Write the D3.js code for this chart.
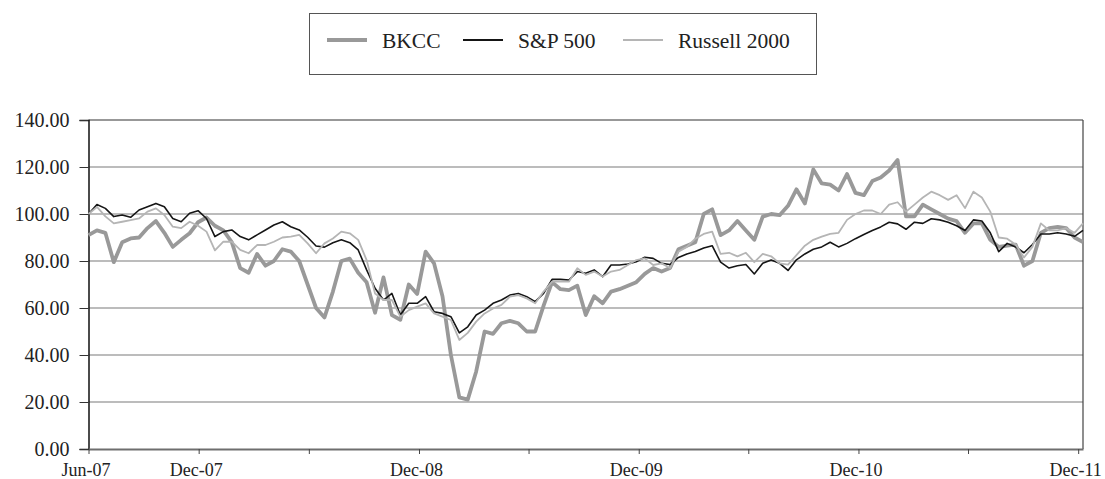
<!DOCTYPE html>
<html>
<head>
<meta charset="utf-8">
<script src="https://cdn.jsdelivr.net/npm/d3@7"></script>
<style>
  body { margin: 0; background: #fff; }
  svg { display: block; }
</style>
</head>
<body>
<svg class="chart"></svg>
<script>
// sampled every two weeks, starting 1 Jun 2007
let startDate = new Date(2007, 5, 1);
let stepDays  = 14;

let bkcc = [91, 93, 92, 79.5, 88, 89.6, 90, 94, 97, 92,
  86, 89, 91.8, 96.5, 98.5, 95, 93, 88, 77, 75,
  83, 78, 80, 85, 84, 80, 70, 60, 56, 67,
  80, 81, 75, 71, 58, 73, 57, 55, 70, 66,
  84, 79, 65, 40, 22, 21, 33, 50, 49, 53.5,
  54.5, 53.5, 50, 50, 61, 71, 68, 67.6, 69.5, 57,
  65, 62, 67, 68, 69.5, 71, 74.5, 77, 75.5, 77,
  85, 86.5, 88, 100, 102, 91, 93, 97, 93, 89,
  98.9, 100, 99.5, 103.5, 110.5, 104.5, 119, 113, 112.5, 110,
  117, 109, 108, 114, 115.5, 118.5, 123, 99, 99, 104,
  102, 100, 98, 97, 92, 96, 96, 89, 86, 86.5,
  87, 78, 80, 92, 94, 94.5, 94, 90, 88];

let sp500 = [100, 104, 102.4, 98.9, 99.6, 98.6, 101.7, 103.1, 104.5, 103.1,
  98.1, 96.7, 100.3, 101.4, 98.1, 90.4, 92.5, 93.2, 90.4, 89,
  91.1, 93.2, 95.3, 96.7, 94.6, 93.2, 90.1, 86.4, 85.9, 87.8,
  89, 87.8, 84.7, 76.2, 68.4, 63.4, 66.2, 57, 62, 62,
  64.8, 58.4, 57.7, 56.3, 49.4, 52, 57, 59.1, 62, 63.4,
  65.5, 66.2, 64.8, 62.7, 66.2, 72.2, 72.2, 71.9, 75.5, 74.8,
  76.2, 73.3, 78.3, 78.3, 78.7, 79.7, 81.6, 81.1, 79, 78.5,
  81.5, 83, 84, 85.5, 86.5, 79.5, 77, 78, 78.5, 74.5,
  79, 80.4, 79, 76, 80.5, 83, 85, 86, 88, 86,
  87.5, 89.5, 91.3, 93, 94.5, 96.5, 95.8, 93.5, 96.5, 96,
  98, 97.5, 96.5, 95, 93, 97.5, 97, 92, 84, 87.5,
  86, 83.5, 87, 91.5, 91.5, 92, 91.5, 90.5, 93];

let russell = [100, 103, 99, 96, 96.7, 97.4, 98.1, 101, 102.4, 99.6,
  94.6, 94, 96.7, 95, 92.5, 84.5, 88.2, 88.2, 84.7, 83.3,
  86.8, 86.8, 88.2, 90, 90.4, 91.1, 87.5, 83.3, 87.5, 89.6,
  92.5, 91.8, 89, 80.4, 66.2, 63.4, 63.4, 56.3, 59.1, 60.6,
  62, 57.7, 56.3, 54.9, 46.4, 49.4, 54.2, 57.7, 59.8, 61.3,
  64.8, 65.5, 64.1, 62, 67, 71.2, 71.2, 71.2, 76.9, 74.1,
  75.5, 73.4, 75.5, 76.2, 78.3, 80.4, 81.1, 78.3, 79, 77,
  84, 86, 89.5, 91.5, 92.5, 83, 83.5, 82, 83.5, 79.5,
  83, 82, 79, 78.5, 82.5, 86.5, 89, 90.4, 91.5, 92,
  97.5, 100, 101.5, 101.5, 100, 104, 105, 101, 104, 107,
  109.5, 108, 106, 108, 102.5, 109.5, 107, 101, 90, 89.5,
  87, 81.5, 86, 96, 93, 93, 94, 92, 96];

let seriesNames = ["BKCC", "S&P 500", "Russell 2000"];
let tickMonths  = ["2007-06", "2007-12", "2008-06", "2008-12", "2009-06", "2009-12", "2010-06", "2010-12", "2011-06", "2011-12"];
let tickLabels  = ["Jun-07", "Dec-07", "", "Dec-08", "", "Dec-09", "", "Dec-10", "", "Dec-11"];
let yTicks      = [0, 20, 40, 60, 80, 100, 120, 140];

let width  = 1105;
let height = 479;
let margin = {top: 120, right: 22, bottom: 30, left: 88.5};
let font   = "'Liberation Serif', 'Times New Roman', serif";

let svg = d3.select(".chart").attr("width", width).attr("height", height);

let dates = bkcc.map(function(d, i) { return d3.timeDay.offset(startDate, i * stepDays); });
let parseMonth = d3.timeParse("%Y-%m");

let x = d3.scaleTime().domain(d3.extent(dates)).range([margin.left, width - margin.right]);
let y = d3.scaleLinear().domain([0, 140]).range([height - margin.bottom, margin.top]);

// gridlines
svg.append("g")
  .selectAll("line")
  .data(yTicks.filter(function(d) { return d > 0; }))
  .join("line")
  .attr("x1", x.range()[0]).attr("x2", x.range()[1])
  .attr("y1", function(d) { return y(d); }).attr("y2", function(d) { return y(d); })
  .attr("stroke", function(d) { return d === 140 ? "#333" : "#7a7a7a"; })
  .attr("stroke-width", 1.2);

// right border
svg.append("line")
  .attr("x1", x.range()[1]).attr("x2", x.range()[1])
  .attr("y1", y(0)).attr("y2", y(140))
  .attr("stroke", "#444").attr("stroke-width", 1.2);

// y axis
let yAxis = svg.append("g")
  .attr("transform", "translate(" + margin.left + ",0)")
  .call(d3.axisLeft(y).tickValues(yTicks).tickFormat(d3.format(".2f")).tickSize(9).tickPadding(10));
yAxis.select(".domain").attr("stroke", "#111").attr("stroke-width", 1.5);
yAxis.selectAll(".tick line").attr("stroke", "#333");
yAxis.selectAll("text")
  .attr("font-family", font)
  .attr("font-size", "20px")
  .attr("fill", "#222");

// x axis
let xAxis = svg.append("g")
  .attr("transform", "translate(0," + y(0) + ")")
  .call(d3.axisBottom(x)
    .tickValues(tickMonths.map(function(m) { return parseMonth(m); }))
    .tickFormat(function(d, i) { return tickLabels[i]; })
    .tickSizeInner(5).tickSizeOuter(0).tickPadding(9));
xAxis.select(".domain").attr("stroke", "#6e6e6e").attr("stroke-width", 2.2);
xAxis.selectAll(".tick line").attr("stroke", "#444");
xAxis.selectAll("text")
  .attr("font-family", font)
  .attr("font-size", "18px")
  .attr("fill", "#222")
  .attr("dx", "-3px");

let line = d3.line()
  .x(function(d, i) { return x(dates[i]); })
  .y(function(d) { return y(d); });

let styles = [
  {data: bkcc,    color: "#999999", w: 3.8},
  {data: sp500,   color: "#151515", w: 1.6},
  {data: russell, color: "#b5b5b5", w: 1.8}
];

styles.forEach(function(s) {
  svg.append("path")
    .attr("fill", "none")
    .attr("stroke", s.color)
    .attr("stroke-width", s.w)
    .attr("stroke-linejoin", "round")
    .attr("d", line(s.data));
});

// legend
let legend = svg.append("g");
legend.append("rect")
  .attr("x", 309.5).attr("y", 13.5)
  .attr("width", 507).attr("height", 61)
  .attr("fill", "#fff")
  .attr("stroke", "#555").attr("stroke-width", 1);

let legendX = [327, 463, 623];
styles.forEach(function(s, i) {
  legend.append("line")
    .attr("x1", legendX[i]).attr("x2", legendX[i] + 40)
    .attr("y1", 40).attr("y2", 40)
    .attr("stroke", s.color).attr("stroke-width", s.w + 0.3);
  legend.append("text")
    .attr("x", legendX[i] + 55).attr("y", 47.5)
    .attr("font-family", font)
    .attr("font-size", "21.5px")
    .attr("fill", "#222")
    .text(seriesNames[i]);
});
</script>
</body>
</html>
